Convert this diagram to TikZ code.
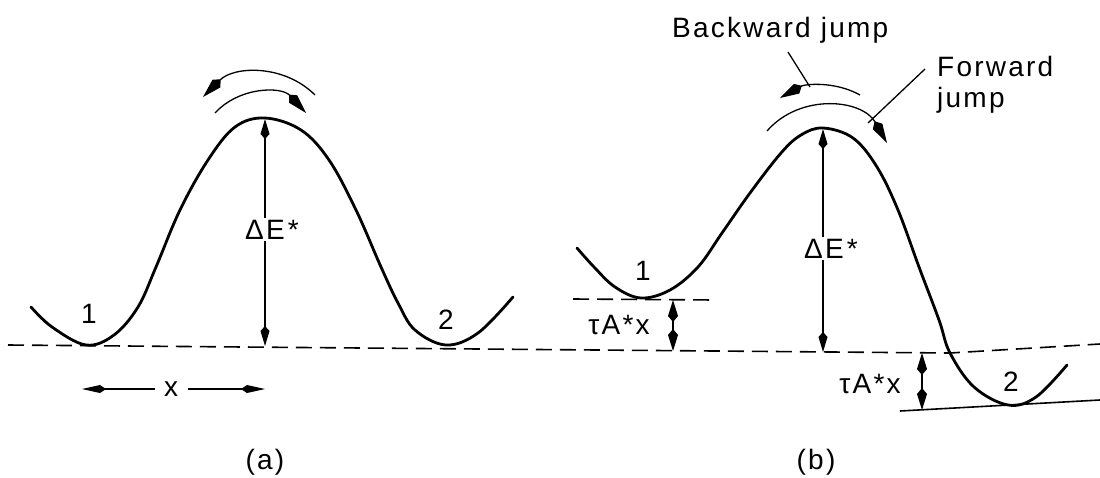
\documentclass[tikz,border=0pt]{standalone}
\usepackage{fontspec}
\setmainfont{Liberation Sans}[LetterSpace=8]
\usetikzlibrary{arrows.meta}
\begin{document}
\begin{tikzpicture}[x=1pt,y=-1pt,
  curve/.style={line width=2.8pt,line cap=round,line join=round},
  hair/.style={line width=1.3pt},
  baseln/.style={line width=1.6pt,dash pattern=on 16pt off 8pt},
  dim/.style={hair,{Kite[length=20pt,width=9pt,inset=5pt]}-{Kite[length=20pt,width=9pt,inset=5pt]}},
  tau/.style={hair,{Kite[length=22pt,width=10pt,inset=6pt]}-{Kite[length=22pt,width=10pt,inset=6pt]}},
  jump/.style={hair,-{Kite[length=25pt,width=11pt,inset=6pt]}},
  xarr/.style={hair,-{Kite[length=24pt,width=8pt,inset=6pt]}},
  lbl/.style={font=\fontsize{28}{31}\selectfont,inner sep=0pt},
  cover/.style={lbl,fill=white,inner sep=2pt}]
\useasboundingbox (0,0) rectangle (1100,477);

% ---- common baseline ----
\coordinate (bl0) at (8,345);
\coordinate (bl1) at (950,353);
\coordinate (bl2) at (1100,344);
\draw[baseln] (bl0) -- (bl1) -- (bl2);

% ================= (a) =================
\draw[curve] plot[smooth,tension=0.6] coordinates {
 (31,307) (52,327) (86,345) (114,335) (138,307) (156,267) (180,210)
 (208,160) (235,127) (265,118) (301,130) (329,160) (356,210) (381,267)
 (398,303) (415,330) (446,345) (478,333) (513,297)};
\node[lbl] (oneA) at (89,314) {1};
\node[lbl] (twoA) at (446,320) {2};

\coordinate (pkA) at (265,119);
\coordinate (bsA) at (265,346);
\draw[dim] (pkA) -- (bsA);
\node[cover,anchor=base west] (dEA) at (243,239) {ΔE\hspace{3pt}*};

% jump arrows (a)
\coordinate (aoS) at (315,95);
\coordinate (aoE) at (203,97);
\coordinate (aiS) at (215,113);
\coordinate (aiE) at (306,113);
\draw[jump] (aoS) .. controls (284,64) and (234,66) .. (aoE);
\draw[jump] (aiS) .. controls (239.5,86.4) and (281.5,86.4) .. (aiE);

% x distance
\node[lbl] (xlab) at (171,389) {x};
\coordinate (xL) at (82,389);
\coordinate (xR) at (265,389);
\coordinate (xLs) at (155,389);
\coordinate (xRs) at (188,389);
\draw[xarr] (xLs) -- (xL);
\draw[xarr] (xRs) -- (xR);

\node[lbl] (capA) at (265,462) {(a)};

% ================= (b) =================
\draw[curve] plot[smooth,tension=0.6] coordinates {
 (577,248) (594,267) (615,287) (641,298) (670,290) (698,267) (722,233)
 (750,193) (781,153) (801,135) (823,128) (853,138) (877,167) (898,210)
 (919,267) (939,320) (950,353) (974,387) (1008,405) (1036,397) (1067,365)};
\node[lbl] (oneB) at (643,271) {1};
\node[lbl] (twoB) at (1011,382) {2};

% level lines
\coordinate (l1a) at (573,299);
\coordinate (l1b) at (715,300);
\draw[baseln] (l1a) -- (l1b);
\coordinate (l2a) at (900,411);
\coordinate (l2b) at (1100,400);
\draw[line width=1.6pt] (l2a) -- (l2b);

% Delta E (b)
\coordinate (pkB) at (823,129);
\coordinate (bsB) at (823,352);
\draw[dim] (pkB) -- (bsB);
\node[cover,anchor=base west] (dEB) at (802,258) {ΔE\hspace{3pt}*};

% tau A* x arrows
\coordinate (t1a) at (673,300);
\coordinate (t1b) at (673,351);
\draw[tau] (t1a) -- (t1b);
\node[lbl,anchor=base] (tauB1) at (619,334) {τA*x};
\coordinate (t2a) at (922,353);
\coordinate (t2b) at (922,410);
\draw[tau] (t2a) -- (t2b);
\node[lbl,anchor=base] (tauB2) at (870,393) {τA*x};

% jump arrows (b)
\coordinate (boS) at (860,95);
\coordinate (boE) at (780,98);
\coordinate (biS) at (767,131);
\coordinate (biE) at (887,143);
\draw[jump] (boS) .. controls (835,81) and (805,84) .. (boE);
\draw[jump] (biS) .. controls (800,93) and (862,99) .. (biE);

% labels with leaders
\node[lbl,anchor=base west] (bwd) at (672,37) {Backward jump};
\node[lbl,anchor=north west,align=left] (fwd) at (937,56) {Forward\\jump};
\coordinate (bwdA) at (788,52);
\coordinate (bwdB) at (810,87);
\draw[hair] (bwdA) -- (bwdB);
\coordinate (fwdA) at (925,69);
\coordinate (fwdB) at (868,123);
\draw[hair] (fwdA) -- (fwdB);

\node[lbl] (capB) at (816,462) {(b)};
\end{tikzpicture}
\end{document}
